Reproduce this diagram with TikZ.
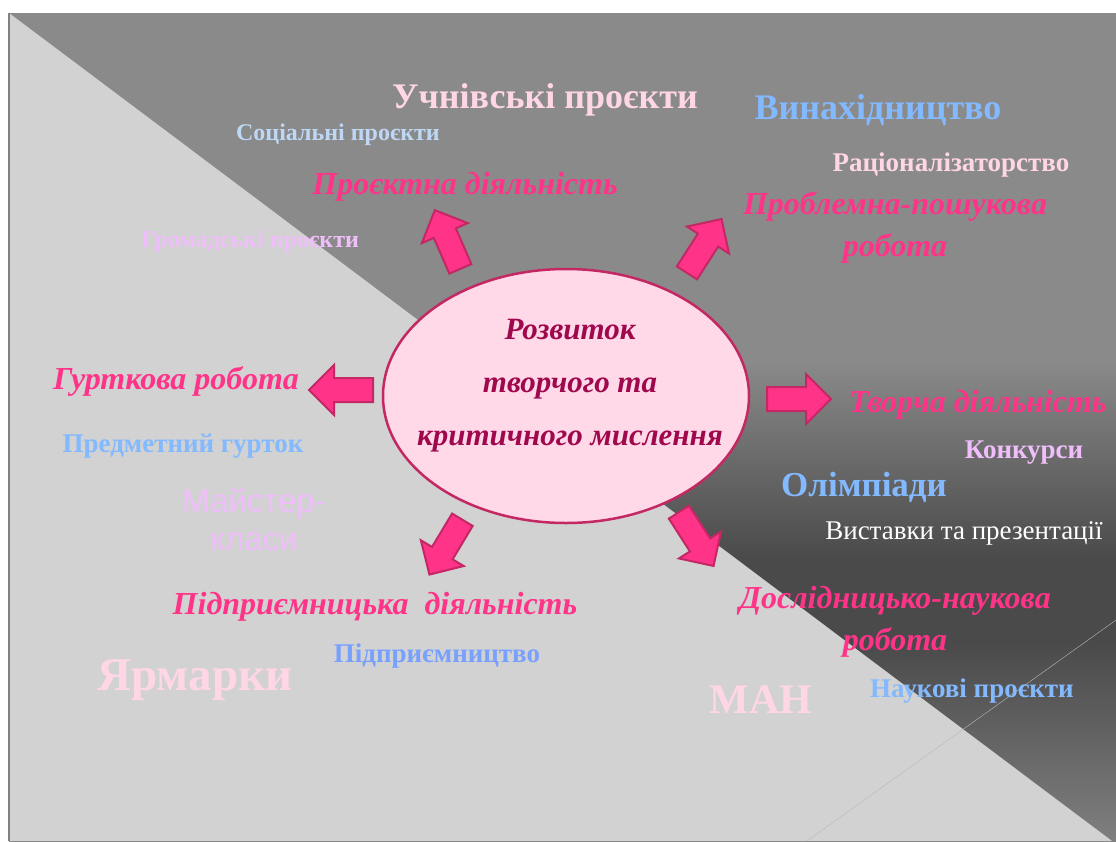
\documentclass[tikz,border=0pt]{standalone}
\usepackage{fontspec}
\setmainfont{Liberation Serif}
\setsansfont{Liberation Sans}
\usetikzlibrary{shapes.arrows,shapes.geometric}

\definecolor{arrowpink}{HTML}{FF3388}
\definecolor{arrowedge}{HTML}{C42864}
\definecolor{ovalfill}{HTML}{FFD9E8}
\definecolor{ovaltext}{HTML}{A0084E}
\definecolor{palepink}{HTML}{FFD6E6}
\definecolor{paleblue}{HTML}{BED7F5}
\definecolor{skyblue}{HTML}{82B9FF}
\definecolor{midblue}{HTML}{78A0FF}
\definecolor{paleviolet}{HTML}{F0BEFA}
\definecolor{lightfield}{HTML}{D2D2D2}
\definecolor{topgrey}{HTML}{8A8A8A}
\definecolor{darkgrey}{HTML}{4A4A4A}
\definecolor{lowgrey}{HTML}{7F7F7F}

\pgfdeclareverticalshading{slidegrad}{100bp}{color(0bp)=(lowgrey); color(25bp)=(lowgrey);
  color(37bp)=(darkgrey); color(42bp)=(darkgrey); color(54bp)=(topgrey); color(100bp)=(topgrey)}

\tikzset{
  script/.style={text=arrowpink, font=\bfseries\itshape\fontsize{32}{42}\selectfont, align=center, inner sep=0pt},
  note/.style={font=\bfseries\fontsize{#1}{#1}\selectfont, inner sep=0pt},
  note/.default=27,
  blockarrow/.style={single arrow, draw=arrowedge, fill=arrowpink, line width=2pt,
    minimum height=64pt, minimum width=48pt, single arrow head extend=13pt,
    inner xsep=0pt, inner ysep=11pt}
}

\begin{document}
\begin{tikzpicture}[x=1pt,y=-1pt]
\useasboundingbox (0,0) rectangle (1116,841);
\fill[white] (0,0) rectangle (1116,841);
\shade[shading=slidegrad] (9,13) rectangle (1116,841);
\fill[lightfield] (9,13) -- (1112,841) -- (9,841) -- cycle;
\draw[gray, line width=1.5pt] (9,13) -- (9,841);
\draw[gray!55] (807,841) -- (1116,620);

\node[ellipse, draw=arrowedge, fill=ovalfill, line width=2.5pt, minimum width=366pt, minimum height=254pt] (centre) at (566,396) {};
\node[text=ovaltext, font=\bfseries\itshape\fontsize{31}{53}\selectfont, align=center] (centretext) at (570,386) {Розвиток\\творчого та\\критичного мислення};

\node[blockarrow, rotate=113.5] (toproekt) at (450,245) {};
\node[blockarrow, rotate=57.3] (toproblem) at (701,251) {};
\node[blockarrow, rotate=180] (togurtok) at (347,390) {};
\node[blockarrow] (totvorcha) at (793,399) {};
\node[blockarrow, rotate=-121] (topidpr) at (449,542) {};
\node[blockarrow, rotate=-57.3] (todoslid) at (693,534) {};

\node[note=36, text=palepink] (uchni) at (545,100) {Учнівські проєкти};
\node[note=24, text=paleblue] (social) at (338,135) {Соціальні проєкти};
\node[script] (proekt) at (465,187) {Проєктна діяльність};
\node[note=24, text=paleviolet] (hromad) at (250,242) {Громадські проєкти};

\node[note=36, text=skyblue] (vynakh) at (878,110) {Винахідництво};
\node[note=27, text=palepink] (ratsio) at (951,165) {Раціоналізаторство};
\node[script] (problem) at (895,227) {Проблемна-пошукова\\робота};

\node[script] (gurtok) at (176,381) {Гурткова робота};
\node[note=27, text=skyblue] (predmet) at (183,446) {Предметний гурток};
\node[text=paleviolet, font=\sffamily\fontsize{33}{38}\selectfont, align=center, inner sep=0pt] (maister) at (254,519) {Майстер-\\класи};

\node[script] (pidpr) at (375,607) {Підприємницька~ діяльність};
\node[note=27, text=midblue] (pidprnote) at (437,656) {Підприємництво};
\node[note=47, text=palepink] (yarmarky) at (195,680) {Ярмарки};

\node[script, anchor=west] (tvorcha) at (849,405) {Творча діяльність};
\node[note=27, text=paleviolet] (konkursy) at (1024,453) {Конкурси};
\node[note=35, text=skyblue] (olimp) at (864,487) {Олімпіади};
\node[text=white, font=\fontsize{27}{27}\selectfont, inner sep=0pt] (vystavky) at (964,533) {Виставки та презентації};

\node[script] (doslid) at (895,622) {Дослідницько-наукова\\робота};
\node[note=42, text=palepink] (man) at (761,700) {МАН};
\node[note=27, text=skyblue] (naukovi) at (972,691) {Наукові проєкти};
\end{tikzpicture}
\end{document}
